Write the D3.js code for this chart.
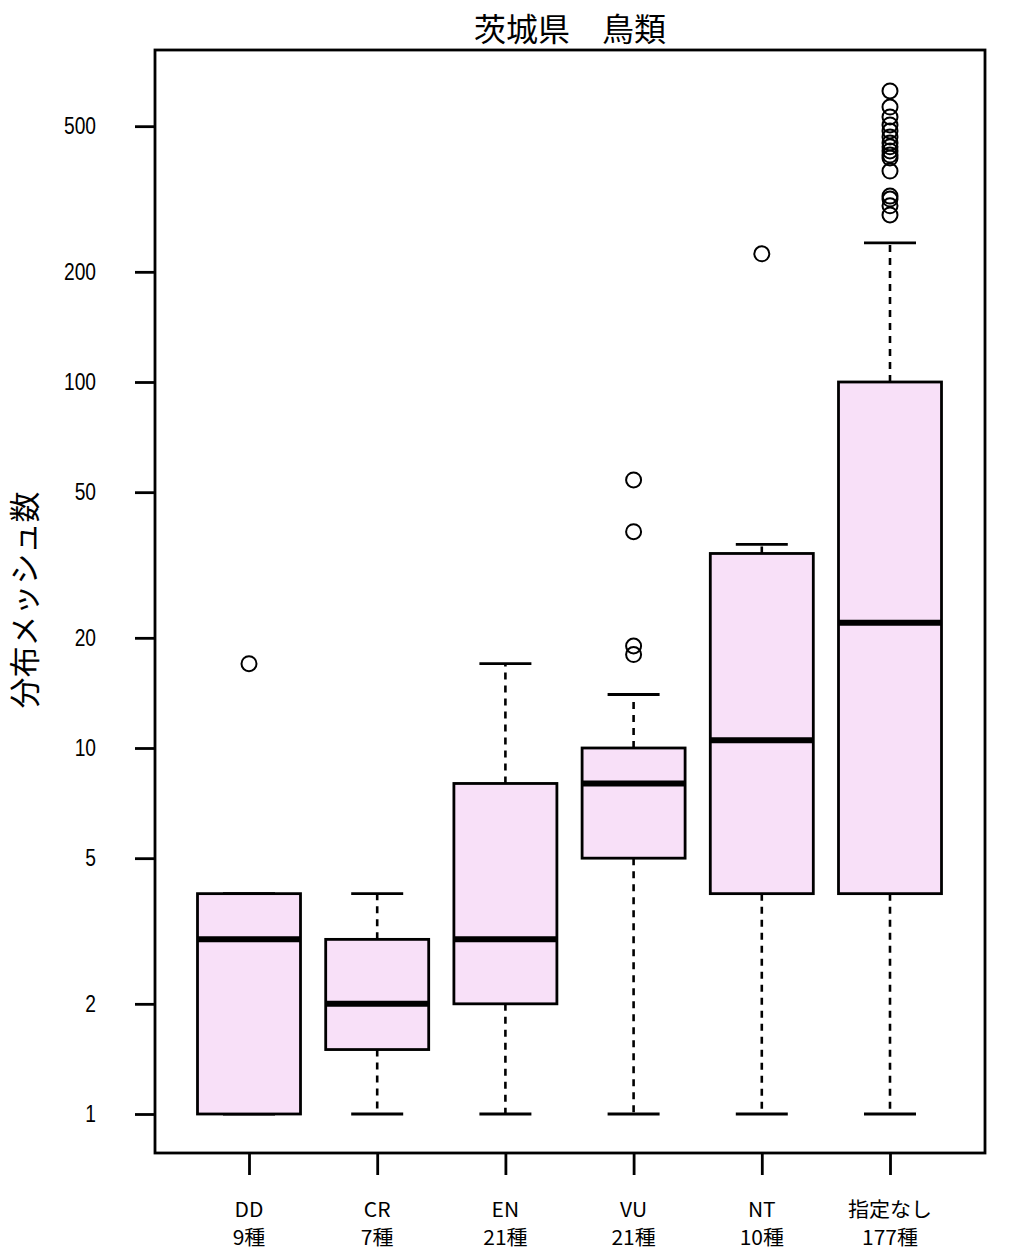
<!DOCTYPE html>
<html><head><meta charset="utf-8">
<script src="https://cdn.jsdelivr.net/npm/d3@7"></script>
<style>body{margin:0;background:#fff}</style>
</head><body>
<script>
const categories = ["DD","CR","EN","VU","NT","指定なし"];
const speciesCounts = [9,7,21,21,10,177];
const whiskerLow = [1,1,1,1,1,1];
const q1 = [1,1.5,2,5,4,4];
const medians = [3,2,3,8,10.5,22];
const q3 = [4,3,8,10,34,100];
const whiskerHigh = [4,4,17,14,36,240];
const outliers = [[17],[],[],[54,39,19,18],[224],
  [624,564,530,504,485,467,450,439,428,417,409,377,322,316,303,286]];
const yTicks = [1,2,5,10,20,50,100,200,500];
const title = "茨城県　鳥類";
const yLabel = "分布メッシュ数";

const W=1010,H=1260;
const frame={l:155,r:985,t:50,b:1153};
const svg=d3.select("body").append("svg").attr("width",W).attr("height",H);
const y=d3.scaleLog().domain([1,100]).range([1114,382]);
const x=d3.scalePoint().domain(categories).range([249,890]);
const boxW=103, capW=52;
const cjk="'Noto Sans CJK JP', sans-serif";
const fill="#f8e0f8";

svg.append("rect").attr("x",frame.l).attr("y",frame.t)
  .attr("width",frame.r-frame.l).attr("height",frame.b-frame.t)
  .attr("fill","none").attr("stroke","#000").attr("stroke-width",2.8);

// y axis
const yAxis=d3.axisLeft(y).tickValues(yTicks).tickFormat(d3.format("d")).tickSize(20);
const ga=svg.append("g").attr("transform",`translate(${frame.l},0)`).call(yAxis);
ga.select(".domain").remove();
ga.selectAll("line").attr("stroke","#000").attr("stroke-width",2.8);
ga.selectAll("text").attr("x",0).attr("transform","translate(-59,0) scale(0.8,1)")
  .attr("font-family","'Liberation Sans', sans-serif").attr("font-size",24).attr("fill","#000");

// x axis
const xAxis=d3.axisBottom(x).tickSize(22).tickFormat("");
const gx=svg.append("g").attr("transform",`translate(0,${frame.b})`).call(xAxis);
gx.select(".domain").remove();
gx.selectAll("line").attr("stroke","#000").attr("stroke-width",2.8);
categories.forEach((c,i)=>{
  const t=svg.append("text").attr("x",x(c)).attr("text-anchor","middle")
    .attr("font-family",cjk).attr("font-size",20)
    .attr("transform",`translate(${x(c)},0) scale(1.05,1) translate(${-x(c)},0)`);
  t.append("tspan").attr("x",x(c)).attr("y",1217).text(c);
  t.append("tspan").attr("x",x(c)).attr("y",1245).text(speciesCounts[i]+"種");
});

// boxes
categories.forEach((c,i)=>{
  const cx=x(c);
  const g=svg.append("g");
  g.append("line").attr("x1",cx).attr("x2",cx).attr("y1",y(q3[i])).attr("y2",y(whiskerHigh[i]))
    .attr("stroke","#000").attr("stroke-width",2.6).attr("stroke-dasharray","7,6");
  g.append("line").attr("x1",cx).attr("x2",cx).attr("y1",y(q1[i])).attr("y2",y(whiskerLow[i]))
    .attr("stroke","#000").attr("stroke-width",2.6).attr("stroke-dasharray","7,6");
  [whiskerHigh[i],whiskerLow[i]].forEach(v=>{
    g.append("line").attr("x1",cx-capW/2).attr("x2",cx+capW/2).attr("y1",y(v)).attr("y2",y(v))
      .attr("stroke","#000").attr("stroke-width",2.8);
  });
  g.append("rect").attr("x",cx-boxW/2).attr("width",boxW).attr("y",y(q3[i])).attr("height",y(q1[i])-y(q3[i]))
    .attr("fill",fill).attr("stroke","#000").attr("stroke-width",2.8);
  g.append("line").attr("x1",cx-boxW/2).attr("x2",cx+boxW/2).attr("y1",y(medians[i])).attr("y2",y(medians[i]))
    .attr("stroke","#000").attr("stroke-width",6);
  g.selectAll("circle").data(outliers[i]).join("circle")
    .attr("cx",cx).attr("cy",d=>y(d)).attr("r",7.5)
    .attr("fill","none").attr("stroke","#000").attr("stroke-width",2);
});

// title
svg.append("text").attr("x",570).attr("y",41).attr("text-anchor","middle")
  .attr("font-family",cjk).attr("font-size",32).text(title);
// y label
svg.append("text").attr("transform","translate(36,600) rotate(-90)")
  .attr("text-anchor","middle").attr("font-family",cjk).attr("font-size",31).text(yLabel);
</script>
</body></html>
